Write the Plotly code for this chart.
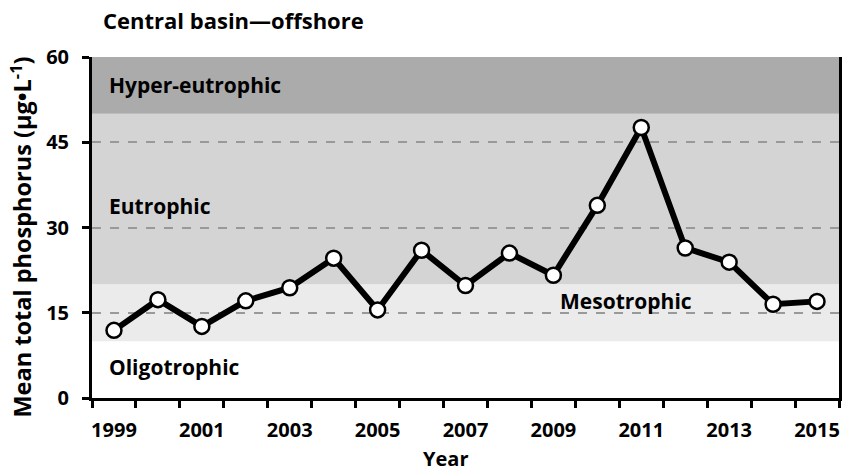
import plotly.graph_objects as go

# Mean total phosphorus, central basin offshore
years = list(range(1999, 2016))
phosphorus = [11.9, 17.3, 12.6, 17.1, 19.4, 24.6, 15.5, 26.0, 19.8, 25.5,
              21.6, 33.9, 47.6, 26.4, 23.9, 16.5, 17.0]

# trophic state bands (µg/L)
band_names = ["Oligotrophic", "Mesotrophic", "Eutrophic", "Hyper-eutrophic"]
band_low = [0, 10, 20, 50]
band_high = [10, 20, 50, 60]
band_colors = ["#ffffff", "#ebebeb", "#d4d4d4", "#ababab"]

y_ticks = [0, 15, 30, 45, 60]
x_labels = [1999, 2001, 2003, 2005, 2007, 2009, 2011, 2013, 2015]

font = "Open Sans"

fig = go.Figure()

for lo, hi, col in zip(band_low, band_high, band_colors):
    fig.add_shape(type="rect", xref="x", yref="y", x0=years[0] - 0.5, x1=years[-1] + 0.5,
                  y0=lo, y1=hi, fillcolor=col, line_width=0, layer="below")

fig.add_trace(go.Scatter(
    x=years, y=phosphorus, mode="lines+markers",
    line=dict(color="black", width=6),
    marker=dict(size=15, color="white", line=dict(color="black", width=2.5)),
    showlegend=False,
))

# band labels
label_pos = {
    "Hyper-eutrophic": (1998.85, 55, "left"),
    "Eutrophic": (1998.85, 33.7, "left"),
    "Mesotrophic": (2010.66, 17.1, "center"),
    "Oligotrophic": (1998.85, 5.5, "left"),
}
for name in band_names:
    x, y, anchor = label_pos[name]
    fig.add_annotation(x=x, y=y, text="<b>%s</b>" % name, showarrow=False,
                       xanchor=anchor, yanchor="middle",
                       font=dict(family=font, size=21, color="black"))

fig.add_annotation(xref="paper", yref="paper", x=0.012, y=1.108, xanchor="left",
                   yanchor="middle", text="<b>Central basin\u2014offshore</b>",
                   showarrow=False, font=dict(family=font, size=22, color="black"))
fig.add_annotation(xref="paper", yref="paper", x=-0.095, y=0.5 - 10 / 341,
                   xanchor="center", yanchor="middle", textangle=-90,
                   text="<b>Mean total phosphorus (\u00b5g\u2022L<sup>-1</sup>)</b>",
                   showarrow=False, font=dict(family=font, size=23.5, color="black"))
fig.add_annotation(xref="paper", yref="paper", x=(447 - 92) / 750, y=-0.178,
                   xanchor="center", yanchor="middle", text="<b>Year</b>",
                   showarrow=False, font=dict(family=font, size=20, color="black"))

fig.update_layout(
    width=849, height=474,
    margin=dict(l=92, r=7, t=57, b=76),
    plot_bgcolor="white", paper_bgcolor="white",
    font=dict(family=font, color="black"),
    xaxis=dict(
        range=[years[0] - 0.5, years[-1] + 0.5],
        tickvals=x_labels, ticktext=["<b>%d</b>" % v for v in x_labels],
        ticks="", ticklabelstandoff=12,
        tickfont=dict(family=font, size=20, color="black"),
        showgrid=False, zeroline=False,
        showline=True, linecolor="black", linewidth=3,
        minor=dict(tickvals=[y - 0.5 for y in years] + [years[-1] + 0.5],
                   ticks="outside", ticklen=7, tickwidth=2.5, tickcolor="black",
                   showgrid=False),
    ),
    yaxis=dict(
        range=[0, 60], tickvals=y_ticks, ticktext=["<b>%d</b>" % v for v in y_ticks],
        ticks="outside", ticklen=7, tickwidth=2.5, tickcolor="black",
        ticklabelstandoff=9,
        tickfont=dict(family=font, size=20, color="black"),
        showgrid=True, gridcolor="#999999", gridwidth=1.5, griddash="dash",
        zeroline=False,
        showline=True, linecolor="black", linewidth=3, mirror=True,
    ),
)

fig.write_html("out.html", config={"displayModeBar": False},
               post_script="document.body.style.margin = '0';")
